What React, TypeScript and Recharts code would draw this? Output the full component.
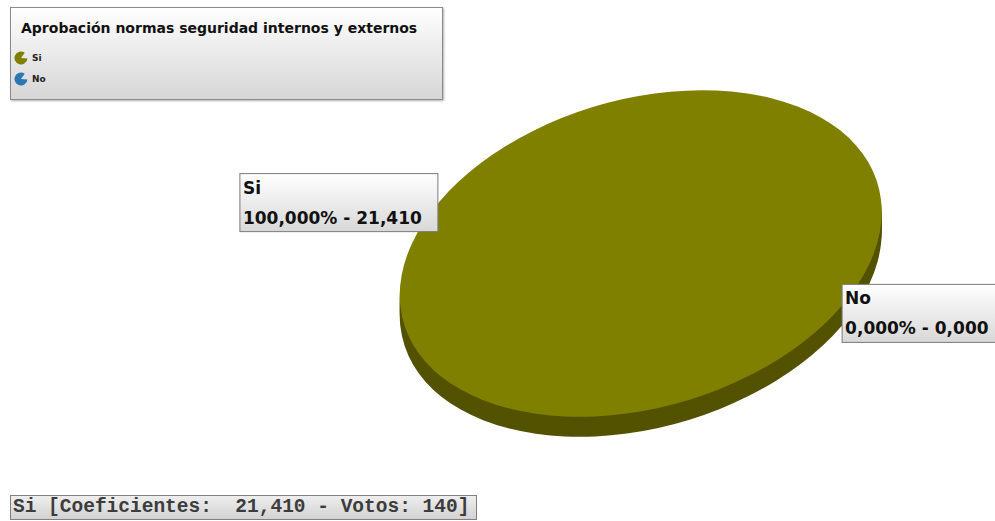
import React from "react";
import { PieChart, Pie, Cell } from "recharts";

const categories = ["Si", "No"];
const coeficientes = [21.41, 0];
const votos = [140, 0];
const legendTitle = "Aprobación normas seguridad internos y externos";

const sliceColors = ["#808000", "#2c78b2"];
const sideColor = "#525200";

const chartData = categories.map((name, i) => ({
  name,
  value: coeficientes[i],
  votos: votos[i],
}));

// geometry of the tilted "3d" disc
const CX = 637;
const CY = 258;
const R = 200;
const SX = 1.235;
const SY = 0.77;
const TILT = -16.3;
const DEPTHS = [4, 8, 12, 16, 20];

const tiltCss = (dy: number) =>
  `translate(0px, ${dy}px) translate(${CX}px, ${CY}px) rotate(${TILT}deg) scale(${SX}, ${SY}) translate(${-CX}px, ${-CY}px)`;

const css = [
  `.pie-top .recharts-sector { transform: ${tiltCss(0)}; }`,
  ...DEPTHS.map((d) => `.pie-side-${d} .recharts-sector { transform: ${tiltCss(d)}; }`),
].join("\n");

function project(angle: number, radius: number) {
  const rad = (angle * Math.PI) / 180;
  const x = radius * Math.cos(-rad) * SX;
  const y = radius * Math.sin(-rad) * SY;
  const t = (TILT * Math.PI) / 180;
  return {
    x: CX + x * Math.cos(t) - y * Math.sin(t),
    y: CY + x * Math.sin(t) + y * Math.cos(t),
  };
}

const fmt = (n: number) => n.toFixed(3).replace(".", ",");

const labelFont = { fontFamily: "DejaVu Sans", fontWeight: "bold" as const, fontSize: 17 };

function renderLabel(props: any) {
  const { midAngle, outerRadius, percent, value, name } = props;
  const p = project(midAngle, outerRadius);
  const left = p.x < CX;
  const w = left ? 198 : 175;
  const h = 58;
  const bx = left ? p.x + 6 - w : p.x;
  const by = left ? p.y - 37 : p.y - 21;
  return (
    <g>
      <line x1={left ? bx + w : bx} y1={p.y - 4} x2={p.x} y2={p.y} stroke="#888" />
      <rect x={bx} y={by} width={w} height={h} fill="url(#boxGrad)" stroke="#7a7a7a" />
      <text x={bx + 3} y={by + 20} fill="#111" {...labelFont}>
        {name}
      </text>
      <text x={bx + 3} y={by + 50} fill="#111" {...labelFont}>
        {`${fmt(percent * 100)}% - ${fmt(value)}`}
      </text>
    </g>
  );
}

function PacIcon({ color }: { color: string }) {
  const r = 6.5;
  const a1 = (-55 * Math.PI) / 180;
  const a2 = (5 * Math.PI) / 180;
  const d = `M7 7 L${7 + r * Math.cos(a2)} ${7 + r * Math.sin(a2)} A${r} ${r} 0 1 1 ${7 + r * Math.cos(a1)} ${7 + r * Math.sin(a1)} Z`;
  return (
    <svg width={14} height={14} style={{ display: "block" }}>
      <path d={d} fill={color} />
    </svg>
  );
}

export default function App() {
  return (
    <div style={{ position: "absolute", left: 0, top: 0, width: 995, height: 521, background: "#fff", overflow: "hidden" }}>
      <style>{css}</style>
      <svg width={0} height={0} style={{ position: "absolute" }}>
        <defs>
          <linearGradient id="boxGrad" x1="0" y1="0" x2="0" y2="1">
            <stop offset="0%" stopColor="#ffffff" />
            <stop offset="100%" stopColor="#d8d8d8" />
          </linearGradient>
        </defs>
      </svg>

      <div style={{ position: "absolute", left: 0, top: 0 }}>
        <PieChart width={995} height={521} margin={{ top: 0, right: 0, bottom: 0, left: 0 }}>
          {[...DEPTHS].reverse().map((d) => (
            <Pie
              key={d}
              className={`pie-side-${d}`}
              data={chartData}
              dataKey="value"
              nameKey="name"
              cx={CX}
              cy={CY}
              outerRadius={R}
              startAngle={-42}
              endAngle={318}
              stroke="none"
              fill={sideColor}
              legendType="none"
              isAnimationActive={false}
            />
          ))}
          <Pie
            className="pie-top"
            data={chartData}
            dataKey="value"
            nameKey="name"
            cx={CX}
            cy={CY}
            outerRadius={R}
            startAngle={-42}
            endAngle={318}
            stroke="none"
            label={renderLabel}
            labelLine={false}
            isAnimationActive={false}
          >
            {chartData.map((d, i) => (
              <Cell key={d.name} fill={sliceColors[i]} />
            ))}
          </Pie>
        </PieChart>
      </div>

      <div
        style={{
          position: "absolute",
          left: 10,
          top: 7,
          width: 433,
          height: 93,
          boxSizing: "border-box",
          border: "1px solid #8a8a8a",
          background: "linear-gradient(#fefefe, #d6d6d6)",
          boxShadow: "1px 1px 2px #b0b0b0",
          fontFamily: "DejaVu Sans",
        }}
      >
        <div style={{ position: "absolute", left: 10, top: 12, fontSize: 14, fontWeight: "bold", color: "#111", whiteSpace: "nowrap" }}>
          {legendTitle}
        </div>
        {categories.map((c, i) => (
          <div key={c} style={{ position: "absolute", left: 3, top: 43 + i * 21, display: "flex", alignItems: "center" }}>
            <PacIcon color={sliceColors[i]} />
            <span style={{ marginLeft: 4, fontSize: 9, fontWeight: "bold", color: "#222" }}>{c}</span>
          </div>
        ))}
      </div>

      <div
        style={{
          position: "absolute",
          left: 10,
          top: 495,
          width: 467,
          height: 25,
          boxSizing: "border-box",
          border: "1px solid #808080",
          background: "linear-gradient(#eeeeee, #d2d2d2)",
          fontFamily: "Liberation Mono",
          fontWeight: "bold",
          fontSize: 19.5,
          lineHeight: "23px",
          color: "#3c3c3c",
          paddingLeft: 2,
          whiteSpace: "pre",
        }}
      >
        {`${categories[0]} [Coeficientes:  ${fmt(coeficientes[0])} - Votos: ${votos[0]}]`}
      </div>
    </div>
  );
}
